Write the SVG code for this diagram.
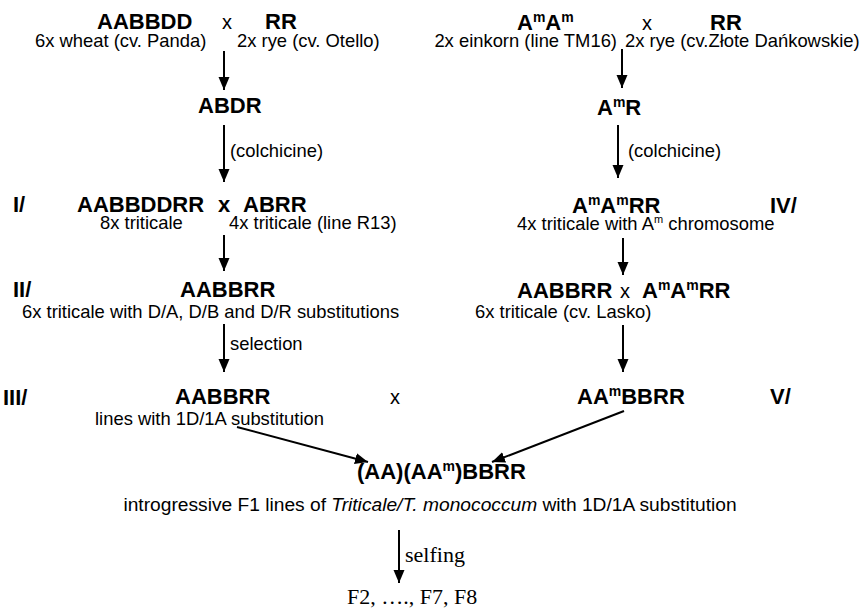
<svg xmlns="http://www.w3.org/2000/svg" width="861" height="610" viewBox="0 0 861 610">
<style>
.b{font-family:"Liberation Sans",Arial,sans-serif;font-weight:bold;font-size:22px;fill:#000}
.r{font-family:"Liberation Sans",Arial,sans-serif;font-size:18.4px;fill:#000}
.x{font-family:"Liberation Sans",Arial,sans-serif;font-size:20px;fill:#000}
.s{font-family:"Liberation Serif","Times New Roman",serif;font-size:22px;fill:#000}
.sup{font-size:14px}
.supr{font-size:11px}
.c{stroke:#000;stroke-width:2;fill:none;marker-end:url(#ah)}
</style>
<defs>
<marker id="ah" markerUnits="userSpaceOnUse" markerWidth="14" markerHeight="14" viewBox="0 0 14 14" refX="13" refY="7" orient="auto">
<path d="M0,1.5 L13,7 L0,12.5 Z" fill="#000"/>
</marker>
</defs>
<rect width="861" height="610" fill="#fff"/>
<g id="connectors">
<line class="c" x1="224" y1="51" x2="224" y2="90"/>
<line class="c" x1="224" y1="125" x2="224" y2="182"/>
<line class="c" x1="224" y1="235" x2="224" y2="271"/>
<line class="c" x1="224" y1="324" x2="224" y2="372"/>
<line class="c" x1="622" y1="49" x2="622" y2="88"/>
<line class="c" x1="618" y1="125" x2="618" y2="178"/>
<line class="c" x1="623" y1="238" x2="623" y2="275"/>
<line class="c" x1="623" y1="325" x2="623" y2="372"/>
<line class="c" x1="237" y1="427" x2="368" y2="462"/>
<line class="c" x1="624" y1="411" x2="492" y2="462"/>
<line class="c" x1="399" y1="530" x2="399" y2="583"/>
</g>
<g id="wheat">
<text class="b" x="97" y="29">AABBDD</text>
<text class="r" x="35" y="47">6x wheat (cv. Panda)</text>
</g>
<text class="x" x="222" y="29">x</text>
<g id="rye1">
<text class="b" x="265" y="29">RR</text>
<text class="r" x="237" y="47">2x rye (cv. Otello)</text>
</g>
<g id="abdr"><text class="b" x="198" y="113">ABDR</text></g>
<text class="r" x="230" y="157">(colchicine)</text>
<g id="einkorn">
<text class="b" x="517" y="30">A<tspan class="sup" dy="-8">m</tspan><tspan dy="8">A</tspan><tspan class="sup" dy="-8">m</tspan></text>
<text class="r" x="617" y="47" text-anchor="end">2x einkorn (line TM16)</text>
</g>
<text class="x" x="642" y="30">x</text>
<g id="rye2">
<text class="b" x="710" y="30">RR</text>
<text class="r" x="625" y="47">2x rye (cv.Złote Dańkowskie)</text>
</g>
<g id="amr"><text class="b" x="597" y="115">A<tspan class="sup" dy="-8">m</tspan><tspan dy="8">R</tspan></text></g>
<text class="r" x="628" y="157">(colchicine)</text>
<g id="step1">
<text class="b" x="13" y="212">I/</text>
<text class="b" x="77" y="212">AABBDDRR</text>
<text class="b" x="218" y="212">x</text>
<text class="r" x="100" y="229">8x triticale</text>
</g>
<g id="abrr">
<text class="b" x="243" y="212">ABRR</text>
<text class="r" x="229" y="229">4x triticale (line R13)</text>
</g>
<g id="step4">
<text class="b" x="572" y="213">A<tspan class="sup" dy="-8">m</tspan><tspan dy="8">A</tspan><tspan class="sup" dy="-8">m</tspan><tspan dy="8">RR</tspan></text>
<text class="b" x="770" y="213">IV/</text>
<text class="r" x="517" y="230">4x triticale with A<tspan class="supr" dy="-7">m</tspan><tspan dy="7"> chromosome</tspan></text>
</g>
<g id="step2">
<text class="b" x="13" y="297">II/</text>
<text class="b" x="180" y="297">AABBRR</text>
<text class="r" x="22" y="318">6x triticale with D/A, D/B and D/R substitutions</text>
</g>
<text class="r" x="230" y="350">selection</text>
<g id="lasko">
<text class="b" x="517" y="298">AABBRR</text>
<text class="r" x="475" y="318">6x triticale (cv. Lasko)</text>
</g>
<text class="x" x="620" y="298">x</text>
<g id="amamrr"><text class="b" x="642" y="298">A<tspan class="sup" dy="-8">m</tspan><tspan dy="8">A</tspan><tspan class="sup" dy="-8">m</tspan><tspan dy="8">RR</tspan></text></g>
<g id="step3">
<text class="b" x="3" y="405">III/</text>
<text class="b" x="175" y="404">AABBRR</text>
<text class="r" x="95" y="425">lines with 1D/1A substitution</text>
</g>
<text class="x" x="390" y="404">x</text>
<g id="step5">
<text class="b" x="577" y="404">AA<tspan class="sup" dy="-8">m</tspan><tspan dy="8">BBRR</tspan></text>
<text class="b" x="770" y="404">V/</text>
</g>
<g id="f1">
<text class="b" x="357" y="479">(AA)(AA<tspan class="sup" dy="-8">m</tspan><tspan dy="8">)BBRR</tspan></text>
<text class="r" x="430" y="511" text-anchor="middle" style="font-size:19.2px">introgressive F1 lines of <tspan font-style="italic">Triticale/T. monococcum</tspan> with 1D/1A substitution</text>
</g>
<text class="s" x="405" y="562">selfing</text>
<g id="fn"><text class="s" x="347" y="604">F2, …., F7, F8</text></g>
</svg>
